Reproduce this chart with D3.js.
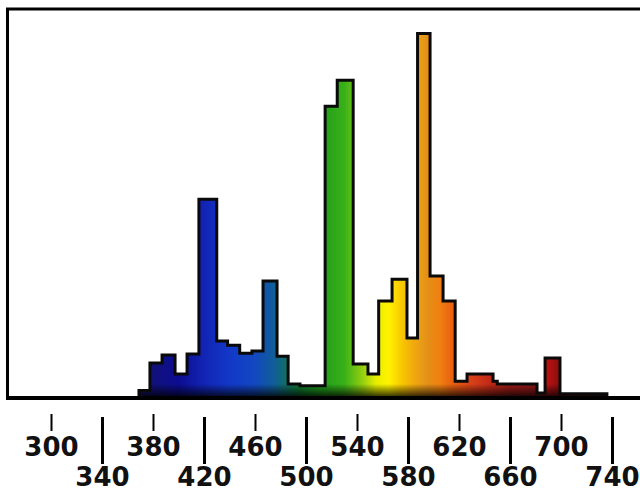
<!DOCTYPE html>
<html>
<head>
<meta charset="utf-8">
<script src="https://cdn.jsdelivr.net/npm/d3@7"></script>
<style>
  html, body { margin: 0; padding: 0; background: #fff; }
  svg { display: block; }
</style>
</head>
<body>
<svg id="chart" width="640" height="491"></svg>
<script>
// Emission spectrum of a fluorescent lamp, stepped in wavelength bins (nm).
const binStart = [369, 377.6, 387.1, 397.3, 406.7, 416, 430, 438.5, 448, 457.6,
                  466.3, 477.3, 486, 495.3, 515, 524.5, 537, 548.6, 557, 567.5,
                  579.2, 587.5, 597.3, 607.5, 617, 626.3, 646.7, 650, 681.2, 687.5, 699.2];
const intensity = [1.5, 9.1, 11.3, 6.1, 11.6, 54.3, 15.2, 14.0, 11.8, 12.4,
                   31.7, 11.0, 3.3, 2.8, 79.9, 87.1, 8.8, 6.1, 26.2, 32.2,
                   16.0, 100, 33.1, 26.2, 4.1, 6.1, 4.1, 3.3, 0.8, 10.5, 0.6];
const binEnd = 736;

// Axis labels: upper row with short ticks, lower row with long ticks.
const upperTicks = [300, 380, 460, 540, 620, 700];
const lowerTicks = [340, 420, 500, 580, 660, 740];

// Colour of light along the visible band.
const hueWavelengths = [370, 400, 420, 440, 460, 475, 485, 495, 510, 530, 545, 555, 565, 575, 585, 595, 605, 615, 630, 645, 660, 680, 690, 700, 740];
const hueColors = ["#14146e", "#0c0c92", "#1224b4", "#1238c8", "#1248c0", "#105e98", "#106e62", "#0e7e30", "#1e9c1c",
                   "#38b018", "#98d010", "#e8ee00", "#fff200", "#f8c800", "#f0a810", "#e49018", "#f08010", "#e86010",
                   "#d84018", "#c02818", "#a01c18", "#901818", "#b81010", "#801010", "#601010"];

const svg = d3.select("#chart");

const x = d3.scaleLinear().domain([300, 740]).range([51, 612]);
const y = d3.scaleLinear().domain([0, 100]).range([396, 33.5]);

const defs = svg.append("defs");

// horizontal spectral gradient
const spec = defs.append("linearGradient")
  .attr("id", "spectrum")
  .attr("gradientUnits", "userSpaceOnUse")
  .attr("x1", x(hueWavelengths[0])).attr("x2", x(hueWavelengths[hueWavelengths.length - 1]))
  .attr("y1", 0).attr("y2", 0);
const w0 = hueWavelengths[0], w1 = hueWavelengths[hueWavelengths.length - 1];
hueWavelengths.forEach((w, i) => {
  spec.append("stop").attr("offset", (w - w0) / (w1 - w0)).attr("stop-color", hueColors[i]);
});

// darkening toward the baseline
const shade = defs.append("linearGradient")
  .attr("id", "shade")
  .attr("gradientUnits", "userSpaceOnUse")
  .attr("x1", 0).attr("x2", 0).attr("y1", y(0) - 12).attr("y2", y(0));
shade.append("stop").attr("offset", 0).attr("stop-color", "#000").attr("stop-opacity", 0);
shade.append("stop").attr("offset", 1).attr("stop-color", "#000").attr("stop-opacity", 0.75);

const bins = binStart.map((w, i) => [w, intensity[i]]);
const filled = bins.concat([[binEnd, intensity[intensity.length - 1]]]);

const area = d3.area()
  .curve(d3.curveStepAfter)
  .x(d => x(d[0]))
  .y0(y(0))
  .y1(d => y(d[1]));

defs.append("clipPath").attr("id", "specClip")
  .append("path").attr("d", area(filled));

svg.append("path")
  .attr("d", area(filled))
  .attr("fill", "url(#spectrum)");

svg.append("rect")
  .attr("x", x(binStart[0])).attr("width", x(binEnd) - x(binStart[0]))
  .attr("y", y(0) - 12).attr("height", 12)
  .attr("fill", "url(#shade)")
  .attr("clip-path", "url(#specClip)");

// outline of the steps
const outlinePts = [[binStart[0], 0]].concat(filled, [[binEnd, 0]]);
const line = d3.line()
  .curve(d3.curveStepAfter)
  .x(d => x(d[0]))
  .y(d => y(d[1]));
svg.append("path")
  .attr("d", line(outlinePts))
  .attr("fill", "none")
  .attr("stroke", "#0a0a0a")
  .attr("stroke-width", 3)
  .attr("stroke-linejoin", "miter");

// frame: top, left, bottom
svg.append("path")
  .attr("d", `M640,9 H7.5 V398`)
  .attr("fill", "none")
  .attr("stroke", "#000")
  .attr("stroke-width", 3);
svg.append("line")
  .attr("x1", 6).attr("x2", 640).attr("y1", 398).attr("y2", 398)
  .attr("stroke", "#000").attr("stroke-width", 4);

// axes
const fontFamily = "'DejaVu Sans', sans-serif";
const fontSize = 26;

const upperAxis = d3.axisBottom(x).tickValues(upperTicks).tickSize(17).tickPadding(7).tickFormat(d3.format("d"));
const gUp = svg.append("g").attr("transform", "translate(0,414)").call(upperAxis);
gUp.select(".domain").remove();
gUp.selectAll(".tick line").attr("stroke", "#000").attr("stroke-width", 2);

const lowerAxis = d3.axisBottom(x).tickValues(lowerTicks).tickSize(47).tickPadding(4).tickFormat(d3.format("d"));
const gLow = svg.append("g").attr("transform", "translate(0,417)").call(lowerAxis);
gLow.select(".domain").remove();
gLow.selectAll(".tick line").attr("stroke", "#000").attr("stroke-width", 3);

svg.selectAll(".tick text")
  .attr("font-family", fontFamily)
  .attr("font-size", fontSize)
  .attr("font-weight", "bold")
  .attr("fill", "#111");
</script>
</body>
</html>
